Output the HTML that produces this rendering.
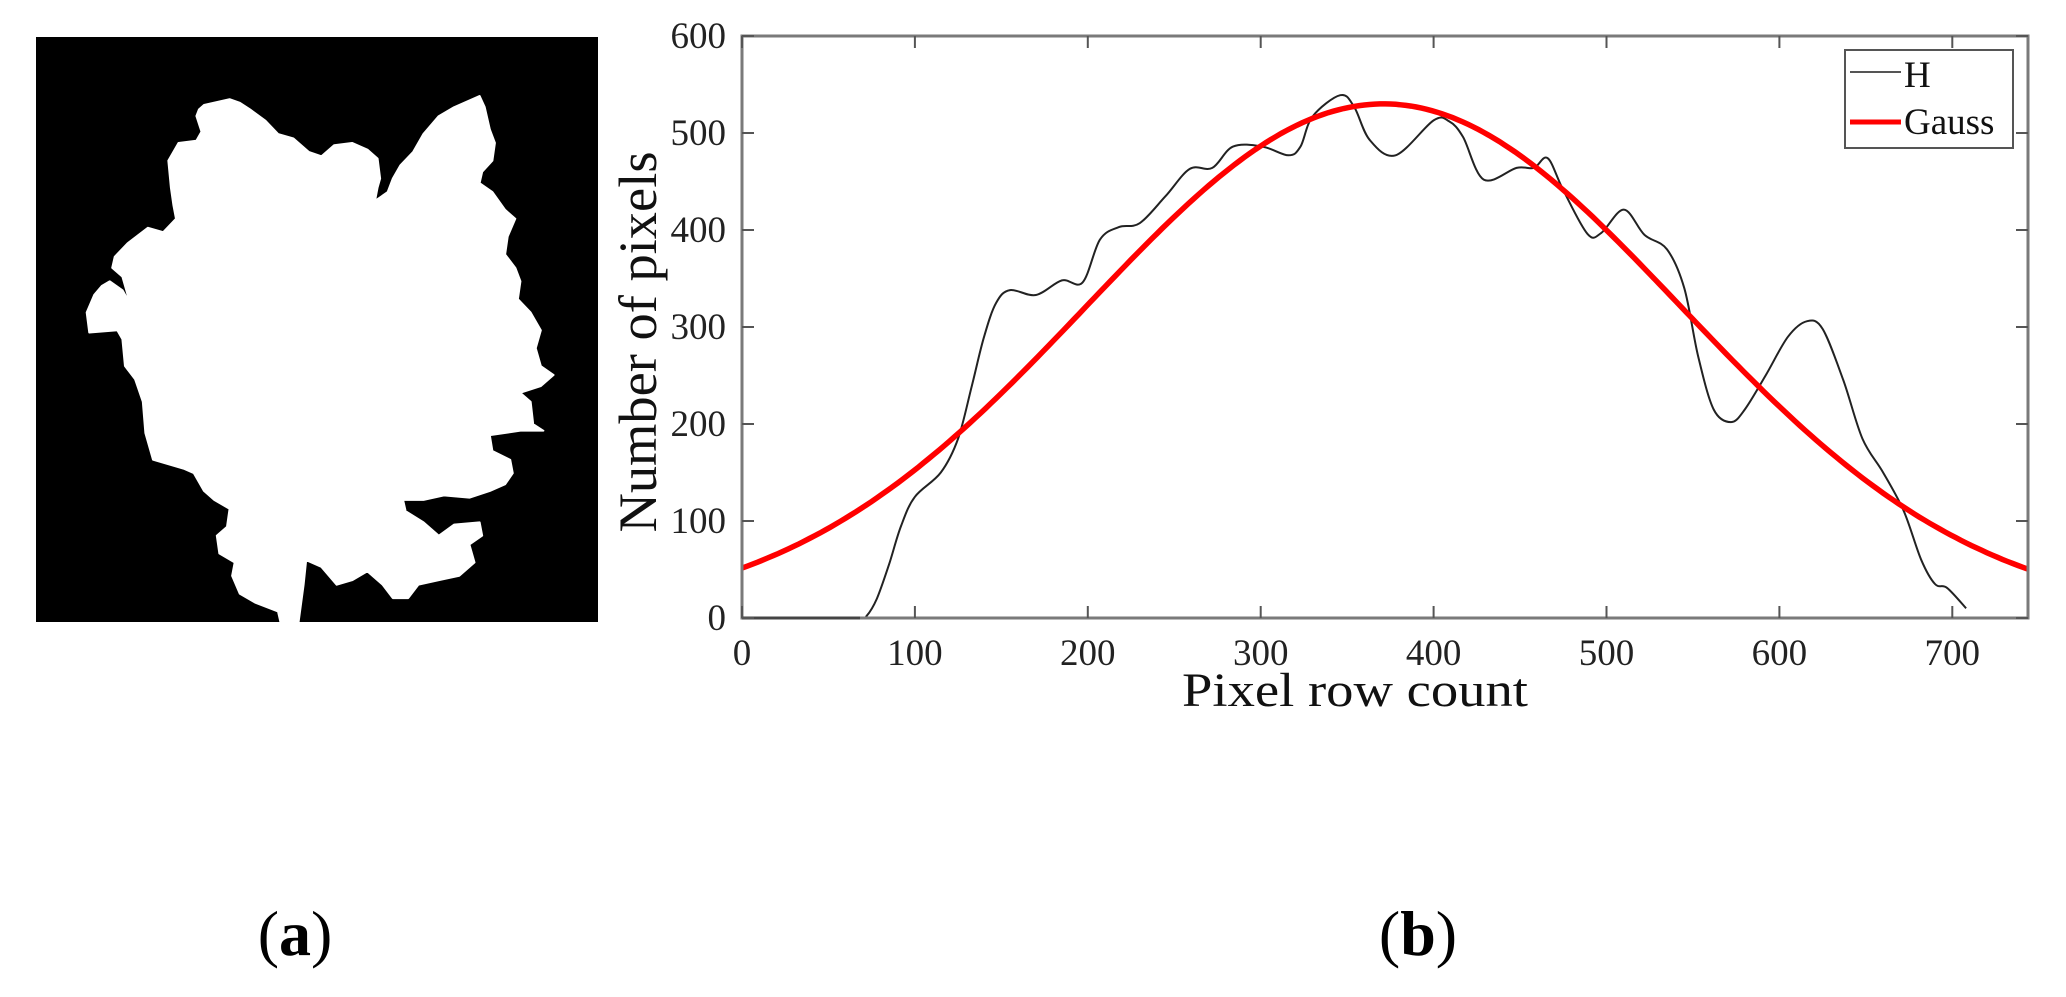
<!DOCTYPE html>
<html><head><meta charset="utf-8"><style>
html,body{margin:0;padding:0;background:#fff;}
svg{display:block;}
text{font-family:"Liberation Serif",serif;}
</style></head><body>
<svg id="s" width="2066" height="997" viewBox="0 0 2066 997" xmlns="http://www.w3.org/2000/svg">
<rect x="0" y="0" width="2066" height="997" fill="#fff"/>
<rect x="36" y="37" width="562" height="585" fill="#000"/>
<g transform="scale(0.5102,0.4464)">
<path fill="#fff" stroke="#fff" stroke-width="4" stroke-linejoin="round" d="M390,245 L400,235 L450,222 L470,230 L490,245 L520,270 L545,300 L575,310 L605,340 L630,350 L655,325 L690,320 L720,335 L740,355 L745,400 L740,420 L735,450 L760,430 L770,400 L785,370 L810,340 L830,300 L860,260 L890,240 L910,230 L940,215 L950,240 L960,290 L970,320 L965,360 L945,385 L940,410 L965,430 L990,470 L1010,490 L995,530 L990,570 L1010,600 L1020,630 L1015,670 L1040,700 L1060,740 L1050,780 L1060,820 L1085,840 L1060,865 L1020,880 L1040,900 L1045,950 L1065,965 L1020,965 L960,975 L965,1010 L1000,1030 L1005,1060 L990,1085 L960,1100 L920,1115 L870,1110 L830,1120 L790,1120 L795,1145 L830,1170 L860,1200 L890,1175 L940,1170 L945,1200 L920,1220 L930,1260 L900,1290 L860,1300 L820,1310 L800,1340 L770,1340 L750,1310 L720,1280 L690,1300 L660,1310 L630,1270 L600,1255 L595,1310 L585,1395 L550,1395 L545,1370 L500,1350 L470,1330 L455,1290 L460,1260 L430,1240 L425,1200 L445,1180 L450,1140 L420,1120 L400,1100 L380,1060 L360,1050 L330,1040 L300,1030 L285,970 L280,900 L265,850 L245,820 L240,760 L230,740 L175,745 L170,700 L185,660 L200,640 L215,630 L240,650 L255,680 L240,620 L220,600 L225,575 L250,545 L290,510 L320,520 L345,490 L340,460 L335,420 L330,360 L350,320 L385,315 L395,295 L385,260 Z"/>
</g>
<g id="plot"></g>
<rect x="742" y="36" width="1286" height="582" fill="none" stroke="#7a7a7a" stroke-width="3"/>
<line x1="742" y1="618" x2="860" y2="618" stroke="#444" stroke-width="3"/>
<g id="ticks" stroke="#555" stroke-width="2"></g>
<g id="lbl" font-size="37" fill="#222"></g>
<text x="1355" y="706" font-size="48" text-anchor="middle" textLength="346" lengthAdjust="spacingAndGlyphs" fill="#111">Pixel row count</text>
<text transform="translate(656,342) rotate(-90)" font-size="54" text-anchor="middle" textLength="381" lengthAdjust="spacingAndGlyphs" fill="#111">Number of pixels</text>
<rect x="1845" y="50" width="168" height="98" fill="#fff" stroke="#555" stroke-width="2"/>
<line x1="1850" y1="72" x2="1901" y2="72" stroke="#555" stroke-width="2"/>
<line x1="1850" y1="122" x2="1901" y2="122" stroke="#f00" stroke-width="5"/>
<text x="1904" y="87" font-size="37" fill="#111">H</text>
<text x="1904" y="134" font-size="37" fill="#111">Gauss</text>
<text x="295" y="955" font-size="64" text-anchor="middle" fill="#000">(<tspan font-weight="bold">a</tspan>)</text>
<text x="1418" y="955" font-size="64" text-anchor="middle" fill="#000">(<tspan font-weight="bold">b</tspan>)</text>
</svg>
<script>
var NS="http://www.w3.org/2000/svg";
function X(u){return 742+u*1.729;}
function Y(v){return 618-v*0.97;}
function el(t,a,p){var e=document.createElementNS(NS,t);for(var k in a)e.setAttribute(k,a[k]);p.appendChild(e);return e;}
var plot=document.getElementById('plot'),ticks=document.getElementById('ticks'),lbl=document.getElementById('lbl');
for(var i=0;i<=7;i++){var x=X(i*100);
 el('line',{x1:x,y1:618,x2:x,y2:606},ticks);el('line',{x1:x,y1:36,x2:x,y2:48},ticks);
 var t=el('text',{x:x,y:665,'text-anchor':'middle'},lbl);t.textContent=i*100;}
for(var j=0;j<=6;j++){var y=Y(j*100);
 el('line',{x1:742,y1:y,x2:754,y2:y},ticks);el('line',{x1:2028,y1:y,x2:2016,y2:y},ticks);
 var t=el('text',{x:726,y:y+12,'text-anchor':'end'},lbl);t.textContent=j*100;}
var d='';for(var u=0;u<=744;u+=3){var v=530*Math.exp(-Math.pow(u-371,2)/(2*171.8*171.8));d+=(u?'L':'M')+X(u).toFixed(1)+','+Y(v).toFixed(1);}
var P=[[0,0],[68,0],[72,2],[78,20],[85,55],[92,95],[100,125],[115,150],[125,185],[133,240],[140,290],[147,325],[155,338],[170,333],[185,348],[197,346],[207,390],[218,403],[230,407],[245,435],[259,463],[272,464],[284,486],[301,486],[316,477],[323,486],[330,517],[346,539],[354,527],[363,493],[378,477],[400,513],[409,512],[417,496],[429,452],[448,464],[458,464],[466,474],[475,441],[489,396],[497,397],[510,421],[522,395],[535,380],[545,340],[553,270],[562,215],[572,202],[580,215],[592,250],[605,290],[616,306],[625,298],[637,245],[648,185],[660,150],[672,110],[682,60],[690,35],[697,31],[708,10]];
var h='M'+X(P[0][0])+','+Y(P[0][1]);
for(var k=0;k<P.length-1;k++){var p0=P[Math.max(k-1,0)],p1=P[k],p2=P[k+1],p3=P[Math.min(k+2,P.length-1)];
 var c1x=X(p1[0]+(p2[0]-p0[0])/6),c1y=Y(p1[1]+(p2[1]-p0[1])/6),c2x=X(p2[0]-(p3[0]-p1[0])/6),c2y=Y(p2[1]-(p3[1]-p1[1])/6);
 h+='C'+c1x.toFixed(1)+','+c1y.toFixed(1)+' '+c2x.toFixed(1)+','+c2y.toFixed(1)+' '+X(p2[0]).toFixed(1)+','+Y(p2[1]).toFixed(1);}
el('path',{d:h,fill:'none',stroke:'#222','stroke-width':2},plot);
el('path',{d:d,fill:'none',stroke:'#f00','stroke-width':5.5},plot);
</script>
</body></html>
